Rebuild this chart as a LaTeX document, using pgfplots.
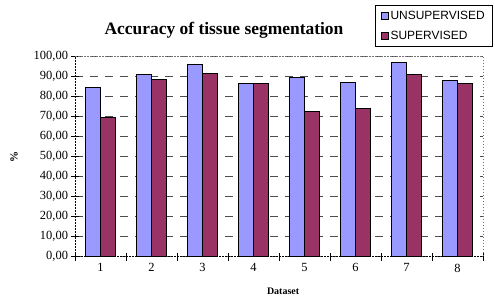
\documentclass[border=0pt]{standalone}
\usepackage{fontspec}
\setmainfont{Liberation Serif}
\newfontfamily\arialf{Liberation Sans}
\usepackage{pgfplots}
\pgfplotsset{compat=1.18}
\definecolor{unsup}{HTML}{9999FF}
\definecolor{sup}{HTML}{993366}
\begin{document}
\begin{tikzpicture}
\path[use as bounding box] (0bp,0bp) rectangle (495bp,297bp);
\begin{axis}[
  at={(75bp,40.3bp)}, anchor=south west,
  scale only axis, width=408bp, height=200bp,
  xmin=0.5, xmax=8.5, ymin=0, ymax=100,
  ybar=0pt, bar width=15bp,
  axis x line*=bottom, axis y line*=left,
  axis line style={black, line width=0.8bp, dash pattern=on 2bp off 1bp, -},
  xtick={1,...,8},
  major x tick style={draw=none},
  minor xtick={0.5,1.5,...,8.5},
  minor x tick style={black, solid, line width=0.6bp},
  minor tick length=8bp,
  ytick={0,10,...,100},
  major tick length=7bp,
  tick align=center,
  y tick style={black, solid, line width=0.6bp},
  ymajorgrids,
  major grid style={dash pattern=on 8bp off 7bp, black!70, line width=0.7bp},
  /pgf/number format/assume math mode=true,
  yticklabel style={/pgf/number format/.cd, fixed, fixed zerofill, precision=2, use comma, 1000 sep={}},
  tick label style={font=\fontsize{12.5}{12.5}\selectfont},
  xticklabel style={yshift=0bp},
  xlabel={Dataset},
  xlabel style={font=\bfseries\fontsize{10}{10}\selectfont, at={(axis description cs:0.51,0)}, anchor=center, yshift=-34.3bp},
  ylabel={\%},
  ylabel style={font=\bfseries\fontsize{11}{11}\selectfont, at={(axis description cs:-0.1495,0.5)}, anchor=center},
  legend style={at={(1.0245,1.2585)}, anchor=north east, draw=black, line width=0.6bp,
    font=\arialf\fontsize{12}{12}\selectfont, inner xsep=6.5bp, inner ysep=4bp, row sep=7bp,
    nodes={inner sep=1.5bp, text height=9bp, text depth=1bp}},
  legend cell align=left,
  legend image code/.code={\draw[#1, line width=0.6bp] (0bp,-3.5bp) rectangle (7bp,3.5bp);},
  after end axis/.code={\draw[black!55, line width=0.8bp, dash pattern=on 1.5bp off 1.5bp] (rel axis cs:0,1) -- (rel axis cs:1,1) -- (rel axis cs:1,0);},
]
\addplot[fill=unsup, draw=black, line width=0.7bp] coordinates {(1,84.5) (2,91.3) (3,96.0) (4,86.7) (5,89.8) (6,87.2) (7,97.2) (8,88.2)};
\addplot[fill=sup, draw=black, line width=0.7bp] coordinates {(1,69.5) (2,88.7) (3,91.8) (4,86.7) (5,72.7) (6,74.2) (7,91.3) (8,86.7)};
\legend{UNSUPERVISED, SUPERVISED}
\end{axis}
\node[font=\bfseries\fontsize{17.5}{18}\selectfont] at (224bp,267bp) {Accuracy of tissue segmentation};
\end{tikzpicture}
\end{document}
